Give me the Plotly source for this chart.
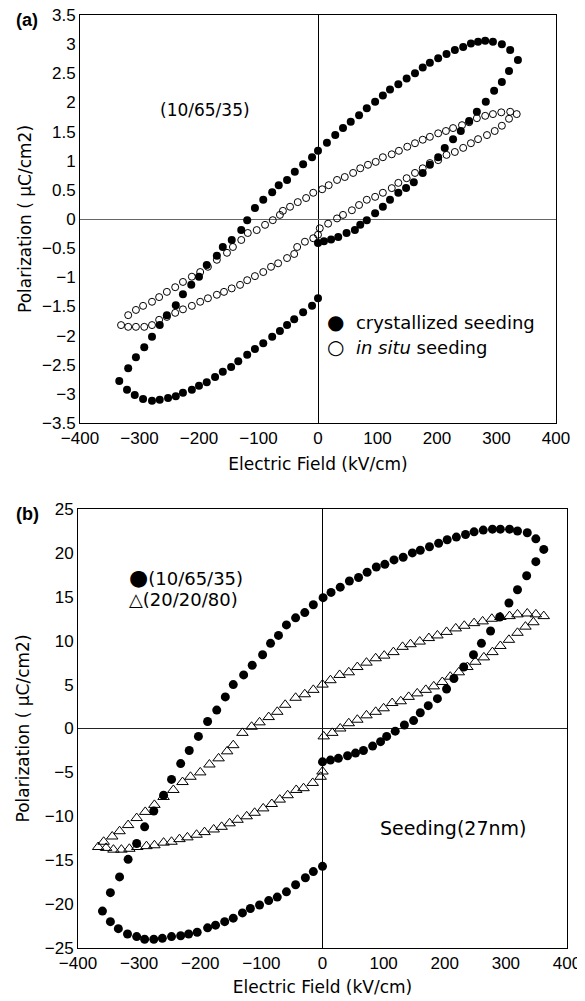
import plotly.graph_objects as go

# ---------------- Panel (a) data ----------------
# crystallized seeding (filled circles)
a_cs_x = [336, 323, 309, 294, 281, 269, 257, 244, 230, 216, 202, 188, 176, 163, 149, 135, 121, 109, 96, 82,
          69, 55, 42, 29, 15, 0, -10, -25, -39, -52, -66, -77, -92, -106, -119, -129, -145, -160, -170, -187,
          -200, -213, -227, -239, -254, -266, -279, -292, -306, -319, -334,
          -321, -308, -294, -279, -266, -252, -239, -227, -212, -200, -187, -173, -160, -146, -134, -119, -106,
          -92, -77, -64, -52, -40, -25, -10, 0,
          0, 10, 22, 34, 48, 62, 71, 82, 96, 109, 121, 135, 148, 161, 176, 188, 202, 213, 227, 240, 254, 267,
          282, 296, 309, 321]
a_cs_y = [2.73, 2.90, 3.00, 3.04, 3.06, 3.04, 3.01, 2.95, 2.90, 2.83, 2.76, 2.68, 2.60, 2.50, 2.41, 2.31, 2.22,
          2.12, 2.01, 1.90, 1.78, 1.67, 1.56, 1.44, 1.31, 1.17, 1.06, 0.94, 0.81, 0.67, 0.58, 0.46, 0.33, 0.19,
          -0.02, -0.19, -0.36, -0.48, -0.63, -0.79, -0.99, -1.13, -1.29, -1.48, -1.65, -1.82, -2.02, -2.20,
          -2.37, -2.56, -2.78,
          -2.93, -3.02, -3.09, -3.12, -3.10, -3.07, -3.04, -2.98, -2.93, -2.86, -2.80, -2.71, -2.62, -2.54,
          -2.44, -2.33, -2.23, -2.13, -2.02, -1.92, -1.82, -1.72, -1.60, -1.49, -1.36,
          -0.41, -0.38, -0.35, -0.31, -0.24, -0.19, -0.10, -0.02, 0.10, 0.21, 0.33, 0.45, 0.53, 0.63, 0.79,
          0.93, 1.06, 1.22, 1.37, 1.51, 1.68, 1.84, 2.01, 2.20, 2.35, 2.54]

# in situ seeding (open circles)
a_is_x = [334, 323, 308, 294, 281, 267, 254, 242, 227, 215, 202, 188, 176, 163, 150, 136, 124, 109, 97, 84,
          71, 59, 45, 32, 18, 7, -8, -20, -34, -47, -59, -64, -76, -89, -103, -118, -129, -143, -153, -170,
          -185, -198, -212, -227, -240, -254, -267, -279, -294, -306, -319, -331,
          -319, -306, -292, -279, -267, -254, -240, -227, -212, -198, -185, -170, -158, -145, -131, -119, -106,
          -92, -79, -67, -52, -40, -35, -22, -8, 0,
          3, 17, 32, 42, 57, 69, 82, 96, 109, 124, 135, 149, 163, 176, 188, 202, 216, 230, 244, 257, 269, 284,
          297, 309, 321]
a_is_y = [1.80, 1.84, 1.83, 1.80, 1.77, 1.73, 1.66, 1.61, 1.56, 1.51, 1.47, 1.41, 1.36, 1.30, 1.24, 1.17, 1.11,
          1.06, 0.98, 0.93, 0.87, 0.79, 0.72, 0.67, 0.58, 0.51, 0.45, 0.36, 0.29, 0.21, 0.14, 0.07, -0.02,
          -0.10, -0.19, -0.24, -0.36, -0.48, -0.58, -0.70, -0.82, -0.91, -0.99, -1.08, -1.17, -1.25, -1.34,
          -1.42, -1.49, -1.56, -1.65, -1.82,
          -1.85, -1.85, -1.85, -1.82, -1.73, -1.68, -1.61, -1.55, -1.49, -1.42, -1.36, -1.30, -1.25, -1.19,
          -1.13, -1.05, -0.98, -0.91, -0.82, -0.76, -0.67, -0.60, -0.48, -0.39, -0.33, -0.27,
          -0.16, -0.08, 0.01, 0.07, 0.15, 0.24, 0.33, 0.38, 0.45, 0.53, 0.62, 0.70, 0.79, 0.87, 0.96, 1.01, 1.10,
          1.15, 1.22, 1.30, 1.37, 1.44, 1.51, 1.60, 1.72]

# ---------------- Panel (b) data ----------------
# (10/65/35) filled circles
b_c_x = [362, 349, 335, 319, 306, 291, 278, 263, 248, 234, 219, 204, 190, 175, 160, 147, 132, 117, 102, 88, 73,
         59, 44, 29, 14, 1, -15, -29, -44, -59, -72, -85, -98, -115, -129, -146, -159, -173, -188, -203, -218,
         -232, -247, -260, -276, -291, -304, -318, -332, -347, -360,
         -347, -334, -319, -304, -291, -276, -262, -247, -232, -219, -205, -188, -175, -160, -146, -131, -118,
         -103, -88, -74, -59, -44, -28, -15, 0,
         0, 13, 26, 41, 54, 67, 82, 95, 105, 119, 134, 149, 160, 173, 188, 203, 215, 231, 247, 260, 275, 290,
         305, 319, 334, 349]
b_c_y = [20.4, 21.6, 22.3, 22.5, 22.7, 22.7, 22.7, 22.6, 22.4, 22.1, 21.8, 21.5, 21.1, 20.7, 20.3, 20.0, 19.5,
         19.2, 18.7, 18.4, 17.8, 17.2, 16.8, 16.1, 15.5, 14.9, 14.1, 13.2, 12.6, 11.8, 10.6, 9.7, 8.4, 7.2, 6.1,
         5.0, 3.6, 2.1, 0.8, -0.9, -2.5, -4.0, -5.8, -7.6, -9.4, -11.2, -13.1, -14.9, -16.9, -18.7, -20.8,
         -22.0, -22.8, -23.4, -23.7, -24.0, -24.0, -23.9, -23.7, -23.6, -23.4, -23.2, -22.7, -22.4, -22.0,
         -21.6, -21.0, -20.5, -20.1, -19.6, -19.2, -18.6, -17.8, -17.0, -16.3, -15.7,
         -3.8, -3.6, -3.4, -3.1, -2.8, -2.5, -2.0, -1.5, -0.9, -0.3, 0.4, 0.9, 1.8, 2.6, 3.4, 4.5, 5.7, 7.0, 8.4,
         9.7, 11.1, 12.7, 14.3, 15.8, 17.4, 19.0]

# (20/20/80) open triangles
b_t_x = [362, 349, 335, 319, 306, 291, 277, 262, 248, 232, 218, 203, 188, 174, 159, 144, 131, 116, 101, 87, 72,
         57, 43, 28, 13, 0, -15, -29, -44, -61, -74, -88, -103, -116, -131, -146, -156, -170, -185, -200, -216,
         -229, -244, -260, -275, -290, -304, -318, -332, -344, -358, -367,
         -354, -342, -329, -316, -303, -288, -275, -260, -247, -234, -221, -206, -193, -178, -165, -152, -139,
         -124, -111, -97, -83, -70, -57, -43, -31, -16, -3, 0,
         2, 16, 29, 43, 57, 72, 87, 100, 114, 128, 141, 155, 169, 182, 196, 209, 223, 237, 250, 264, 278, 291,
         305, 319, 332, 345]
b_t_y = [12.8, 13.0, 13.1, 13.0, 12.8, 12.7, 12.5, 12.2, 12.0, 11.7, 11.4, 11.0, 10.6, 10.3, 9.9, 9.6, 9.3, 8.7,
         8.3, 8.0, 7.5, 7.0, 6.4, 6.1, 5.5, 5.0, 4.4, 3.9, 3.5, 2.7, 1.9, 1.3, 0.7, 0.2, -0.5, -1.9, -2.6, -3.4,
         -4.1, -5.0, -5.5, -6.1, -7.0, -7.8, -8.7, -9.5, -10.2, -11.0, -11.7, -12.3, -12.9, -13.5,
         -13.6, -13.8, -13.8, -13.7, -13.5, -13.4, -13.3, -13.0, -12.9, -12.6, -12.4, -12.1, -11.8, -11.5,
         -11.2, -10.8, -10.4, -10.0, -9.6, -9.1, -8.6, -8.1, -7.6, -7.0, -6.8, -6.2, -5.5, -4.9,
         -0.9, -0.5, 0.0, 0.6, 1.0, 1.5, 1.9, 2.3, 2.9, 3.1, 3.6, 4.0, 4.4, 4.8, 5.3, 5.9, 6.4, 7.0, 7.6, 8.1,
         8.7, 9.4, 10.1, 10.9, 11.6, 12.1]

x_ticks = [-400, -300, -200, -100, 0, 100, 200, 300, 400]
a_y_ticks = [-3.5, -3, -2.5, -2, -1.5, -1, -0.5, 0, 0.5, 1, 1.5, 2, 2.5, 3, 3.5]
b_y_ticks = [-25, -20, -15, -10, -5, 0, 5, 10, 15, 20, 25]

FONT = "Liberation Sans, Arial, sans-serif"
WIDE = "DejaVu Sans, sans-serif"

# page body has an 8px margin: figure is 577x993 so the page is 585x1001
W, H = 577, 993
OFF = 8


def fx(px):
    return (px - OFF) / W


def fy(py):
    return 1 - (py - OFF) / H


fig = go.Figure()

fig.add_trace(go.Scatter(x=a_cs_x, y=a_cs_y, mode="markers", name="crystallized seeding",
                         marker=dict(symbol="circle", size=8, color="black"),
                         xaxis="x", yaxis="y", showlegend=False))
fig.add_trace(go.Scatter(x=a_is_x, y=a_is_y, mode="markers", name="in situ seeding",
                         marker=dict(symbol="circle-open", size=7, color="black", line=dict(width=1)),
                         xaxis="x", yaxis="y", showlegend=False))
fig.add_trace(go.Scatter(x=b_c_x, y=b_c_y, mode="markers", name="(10/65/35)",
                         marker=dict(symbol="circle", size=9, color="black"),
                         xaxis="x2", yaxis="y2", showlegend=False))
fig.add_trace(go.Scatter(x=b_t_x, y=b_t_y, mode="markers", name="(20/20/80)",
                         marker=dict(symbol="triangle-up-open", size=10, color="black", line=dict(width=1)),
                         xaxis="x2", yaxis="y2", showlegend=False))

axis_common = dict(showline=True, mirror=True, linecolor="black", linewidth=1, showgrid=False,
                   ticks="", tickfont=dict(family=FONT, size=17, color="black"),
                   zeroline=True, zerolinewidth=1, automargin=False, ticklabeloverflow="allow")

fig.update_layout(
    width=W, height=H,
    paper_bgcolor="white", plot_bgcolor="white",
    margin=dict(l=0, r=0, t=0, b=0),
    showlegend=False,
    font=dict(family=FONT, color="black"),
    xaxis=dict(axis_common, domain=[fx(80), fx(556)], range=[-400, 400], tickvals=x_ticks,
               zerolinecolor="black", anchor="y",
               title=dict(text="Electric Field (kV/cm)", font=dict(size=17, family=WIDE), standoff=10)),
    yaxis=dict(axis_common, domain=[fy(423), fy(15)], range=[-3.5, 3.5], tickvals=a_y_ticks,
               ticktext=[("−" if v < 0 else "") + ("%g" % abs(v)) for v in a_y_ticks],
               zerolinecolor="#666", anchor="x",
               title=dict(text="Polarization ( μC/cm2)", font=dict(size=17, family=WIDE), standoff=6)),
    xaxis2=dict(axis_common, domain=[fx(78), fx(567)], range=[-400, 400], tickvals=x_ticks,
                zerolinecolor="black", anchor="y2",
                title=dict(text="Electric Field (kV/cm)", font=dict(size=17, family=WIDE), standoff=8)),
    yaxis2=dict(axis_common, domain=[fy(948), fy(509)], range=[-25, 25], tickvals=b_y_ticks,
                zerolinecolor="#222", anchor="x2",
                title=dict(text="Polarization ( μC/cm2)", font=dict(size=17, family=WIDE), standoff=10)),
)


def span(size, txt):
    return '<span style="font-size:%dpx">%s</span>' % (size, txt)


ann = []
ann.append(dict(text="<b>(a)</b>", x=fx(14), y=fy(20), xref="paper", yref="paper",
                xanchor="left", yanchor="middle", showarrow=False, font=dict(size=18)))
ann.append(dict(text="<b>(b)</b>", x=fx(14), y=fy(514), xref="paper", yref="paper",
                xanchor="left", yanchor="middle", showarrow=False, font=dict(size=18)))
ann.append(dict(text="(10/65/35)", x=-190, y=1.87, xref="x", yref="y", showarrow=False,
                font=dict(size=17, family=WIDE)))
# legend of panel (a): two lines, 25 px apart
ann.append(dict(text=span(20, "●") + span(18, "  crystallized seeding") + "<br>"
                + span(20, "○") + span(18, "  <i>in situ</i> seeding"),
                x=12, y=-1.985, xref="x", yref="y", xanchor="left", yanchor="middle", align="left",
                showarrow=False, font=dict(size=19, family=WIDE)))
# legend of panel (b): two lines, ~21 px apart
ann.append(dict(text=span(22, "●") + span(18, "(10/65/35)") + "<br>" + span(18, "△(20/20/80)"),
                x=-320, y=16.05, xref="x2", yref="y2", xanchor="left", yanchor="middle", align="left",
                showarrow=False, font=dict(size=16, family=WIDE)))
ann.append(dict(text="Seeding(27nm)", x=213, y=-11.3, xref="x2", yref="y2", showarrow=False,
                font=dict(size=19, family=WIDE)))
fig.update_layout(annotations=ann)

fig.write_html("out.html")
